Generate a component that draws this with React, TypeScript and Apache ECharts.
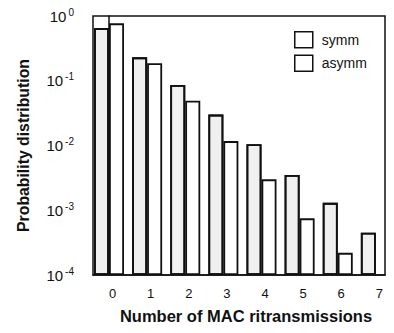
import React, { useEffect, useRef } from "react";
import * as echarts from "echarts";

const categories = [0, 1, 2, 3, 4, 5, 6, 7];
const symmValues = [0.65, 0.23, 0.086, 0.03, 0.0105, 0.0035, 0.0013, 0.00045];
const asymmValues: (number | null)[] = [0.77, 0.186, 0.049, 0.0117, 0.003, 0.00075, 0.00022, null];
const yTickExponents = [-4, -3, -2, -1, 0];
const LOG_MIN = -4; // axis bottom is 10^-4

// log10 scale shifted so the bars grow from the 10^-4 baseline
const toAxis = (v: number | null) => (v == null ? null : Math.log10(v) - LOG_MIN);

export default function App() {
  const ref = useRef<HTMLDivElement>(null);
  useEffect(() => {
    const chart = echarts.init(ref.current!, null, { renderer: "svg" });
    const font = "Liberation Sans, Arial, sans-serif";
    chart.setOption({
      animation: false,
      backgroundColor: "#ffffff",
      textStyle: { fontFamily: font, color: "#111" },
      grid: {
        left: 93,
        top: 16,
        right: 9,
        bottom: 58,
        show: true,
        borderColor: "#111",
        borderWidth: 1.5,
        backgroundColor: "transparent",
      },
      legend: {
        orient: "vertical",
        left: 289,
        top: 26,
        itemWidth: 18,
        itemHeight: 16,
        itemGap: 6,
        icon: "rect",
        textStyle: { fontSize: 14, color: "#111", fontFamily: font, padding: [0, 0, 0, 4] },
        data: [
          { name: "symm", itemStyle: { color: "#fff", borderColor: "#111", borderWidth: 1.5, decal: "none" } },
          { name: "asymm", itemStyle: { color: "#fff", borderColor: "#111", borderWidth: 1.5 } },
        ],
      },
      xAxis: {
        type: "value",
        min: -0.42,
        max: 7.24,
        axisLine: { show: true, lineStyle: { color: "#111", width: 1.5 } },
        axisTick: { show: false },
        splitLine: { show: false },
        axisLabel: {
          customValues: categories,
          fontSize: 13,
          color: "#111",
          margin: 12,
          padding: [0, 0, 0, 7],
          formatter: (v: number) => String(v),
        },
        name: "Number of MAC ritransmissions",
        nameLocation: "middle",
        nameGap: 32,
        nameTextStyle: { fontSize: 16.5, fontWeight: "bold", color: "#111", padding: [0, 0, 0, 14] },
      },
      yAxis: {
        type: "value",
        min: 0,
        max: -LOG_MIN,
        axisLine: { show: true, lineStyle: { color: "#111", width: 1.5 } },
        axisTick: { show: false },
        splitLine: { show: false },
        axisLabel: {
          customValues: yTickExponents.map((e) => e - LOG_MIN),
          margin: 19,
          formatter: (v: number) => {
            const e = Math.round(v + LOG_MIN);
            return "{b|10}{s|" + (e < 0 ? "-" + -e : String(e)) + "}";
          },
          rich: {
            b: { fontSize: 15, color: "#111", fontFamily: font, lineHeight: 18 },
            s: { fontSize: 10, color: "#111", fontFamily: font, verticalAlign: "top", padding: [0, 0, 0, 2] },
          },
        },
        name: "Probability distribution",
        nameLocation: "middle",
        nameGap: 62,
        nameTextStyle: { fontSize: 15.8, fontWeight: "bold", color: "#111" },
      },
      series: [
        {
          name: "symm",
          type: "bar",
          barWidth: 15,
          barGap: "0%",
          data: categories.map((c, i) => [c, toAxis(symmValues[i])]),
          itemStyle: {
            color: "#f0f0f0",
            borderColor: "#111",
            borderWidth: 1.8,
            decal: {
              symbol: "circle",
              symbolSize: 0.7,
              color: "rgba(30,30,30,0.6)",
              dashArrayX: [[1, 5]],
              dashArrayY: [1, 6],
              rotation: 0.4,
            },
          },
        },
        {
          name: "asymm",
          type: "bar",
          barWidth: 15,
          barGap: "0%",
          data: categories.map((c, i) => [c, toAxis(asymmValues[i])]),
          itemStyle: { color: "#ffffff", borderColor: "#111", borderWidth: 1.8 },
        },
      ],
    });
    return () => chart.dispose();
  }, []);
  return <div ref={ref} style={{ width: 394, height: 333, margin: -8 }} />;
}
